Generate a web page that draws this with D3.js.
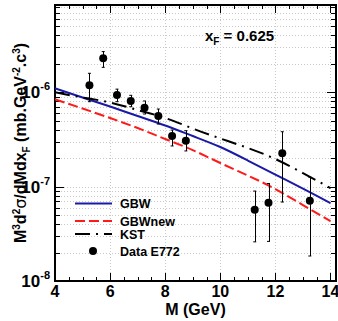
<!DOCTYPE html>
<html>
<head>
<meta charset="utf-8">
<script src="https://cdn.jsdelivr.net/npm/d3@7"></script>
<style>
  body { margin: 0; background: #fff; }
  svg { display: block; font-family: "Liberation Sans", Arial, sans-serif; font-weight: bold; }
</style>
</head>
<body>
<div id="chart"></div>
<script>
// theory curves, sampled at integer masses
var curveMass = [4, 5, 6, 7, 8, 9, 10, 11, 12, 13, 14];
var gbw    = [1.10e-6, 8.81e-7, 7.07e-7, 5.61e-7, 4.45e-7, 3.44e-7, 2.63e-7, 1.89e-7, 1.34e-7, 9.55e-8, 6.70e-8];
var gbwNew = [8.43e-7, 6.73e-7, 5.34e-7, 4.18e-7, 3.20e-7, 2.44e-7, 1.78e-7, 1.31e-7, 9.43e-8, 6.38e-8, 4.32e-8];
var kst    = [1.00e-6, 8.81e-7, 7.80e-7, 6.49e-7, 5.34e-7, 4.13e-7, 3.24e-7, 2.57e-7, 1.96e-7, 1.39e-7, 9.66e-8];

// E772 data points
var dataMass = [5.25, 5.75, 6.25, 6.75, 7.25, 7.75, 8.25, 8.75, 11.25, 11.75, 12.25, 13.25];
var dataVal  = [1.19e-6, 2.29e-6, 9.36e-7, 8.09e-7, 6.87e-7, 5.61e-7, 3.44e-7, 3.07e-7, 5.69e-8, 6.75e-8, 2.26e-7, 7.09e-8];
var dataHi   = [1.59e-6, 2.70e-6, 1.08e-6, 9.29e-7, 8.09e-7, 6.65e-7, 3.98e-7, 3.92e-7, 8.98e-8, 1.08e-7, 3.82e-7, 1.26e-7];
var dataLo   = [7.95e-7, 1.84e-6, 7.95e-7, 7.04e-7, 5.89e-7, 4.61e-7, 2.70e-7, 2.39e-7, 2.60e-8, 2.63e-8, 6.87e-8, 1.84e-8];

var xMajor = [4, 6, 8, 10, 12, 14];
var yMajor = [1e-8, 1e-7, 1e-6];
var yExp = ["-8", "-7", "-6"];

var legendItems = ["GBW", "GBWnew", "KST", "Data E772"];

var W = 338, H = 321;
var pLeft = 55, pRight = 336, pTop = 5, pBottom = 281;

var svg = d3.select("#chart").append("svg")
    .attr("width", W)
    .attr("height", H);

var x = d3.scaleLinear().domain([4, 14.2]).range([pLeft, pRight]);
var y = d3.scaleLog().domain([1e-8, 8.42e-6]).range([pBottom, pTop]);

// minor ticks
var xMinor = d3.range(4, 14.21, 0.5).filter(function(d) { return xMajor.indexOf(d) < 0; });
var yMinor = [];
[-8, -7, -6].forEach(function(e) {
    for (var k = 2; k <= 9; k++) {
        var v = k * Math.pow(10, e);
        if (v <= 8.42e-6) yMinor.push(v);
    }
});

// grid
var grid = svg.append("g").attr("stroke", "#c8c8c8").attr("stroke-width", 1).attr("stroke-dasharray", "1,2");
grid.selectAll(".gx")
    .data(xMajor.slice(1))
    .enter().append("line")
        .attr("x1", function(d) { return Math.round(x(d)) + 0.5; })
        .attr("x2", function(d) { return Math.round(x(d)) + 0.5; })
        .attr("y1", pTop).attr("y2", pBottom);
grid.selectAll(".gy")
    .data(yMajor.slice(1).concat(yMinor))
    .enter().append("line")
        .attr("x1", pLeft).attr("x2", pRight)
        .attr("y1", function(d) { return Math.round(y(d)) + 0.5; })
        .attr("y2", function(d) { return Math.round(y(d)) + 0.5; });

// ticks on all four sides (inside), ROOT style
var ticks = svg.append("g").attr("stroke", "#000").attr("stroke-width", 1);
function xTicks(vals, len) {
    vals.forEach(function(d) {
        var px = Math.round(x(d)) + 0.5;
        ticks.append("line").attr("x1", px).attr("x2", px).attr("y1", pBottom).attr("y2", pBottom - len);
        ticks.append("line").attr("x1", px).attr("x2", px).attr("y1", pTop).attr("y2", pTop + len);
    });
}
function yTicks(vals, len) {
    vals.forEach(function(d) {
        var py = Math.round(y(d)) + 0.5;
        ticks.append("line").attr("x1", pLeft).attr("x2", pLeft + len).attr("y1", py).attr("y2", py);
        ticks.append("line").attr("x1", pRight).attr("x2", pRight - len).attr("y1", py).attr("y2", py);
    });
}
xTicks(xMajor, 8);
xTicks(xMinor, 4);
yTicks(yMajor, 9);
yTicks(yMinor, 5);

// frame
svg.append("rect")
    .attr("x", pLeft).attr("y", pTop)
    .attr("width", pRight - pLeft).attr("height", pBottom - pTop)
    .attr("fill", "none").attr("stroke", "#000").attr("stroke-width", 2);

// x tick labels
svg.selectAll(".xl")
    .data(xMajor)
    .enter().append("text")
        .attr("x", function(d) { return x(d); })
        .attr("y", 297)
        .attr("text-anchor", "middle")
        .attr("font-size", 16)
        .text(function(d) { return d; });

// y tick labels 10^n
var yl = svg.selectAll(".yl")
    .data(yMajor)
    .enter().append("text")
        .attr("x", 50)
        .attr("y", function(d) { return y(d) + 6; })
        .attr("text-anchor", "end")
        .attr("font-size", 17);
yl.append("tspan").text("10");
yl.append("tspan")
    .attr("dy", -8)
    .attr("font-size", 11)
    .text(function(d, i) { return yExp[i]; });

// axis titles
svg.append("text")
    .attr("x", (pLeft + pRight) / 2)
    .attr("y", 315)
    .attr("text-anchor", "middle")
    .attr("font-size", 16)
    .text("M (GeV)");

var yt = svg.append("text")
    .attr("transform", "translate(26," + ((pTop + pBottom) / 2) + ") rotate(-90)")
    .attr("text-anchor", "middle")
    .attr("font-size", 16);
yt.append("tspan").text("M");
yt.append("tspan").attr("dy", -6).attr("font-size", 10).text("3");
yt.append("tspan").attr("dy", 6).text("d");
yt.append("tspan").attr("dy", -6).attr("font-size", 10).text("2");
yt.append("tspan").attr("dy", 6).attr("font-family", "DejaVu Sans").attr("font-weight", "normal").text("σ");
yt.append("tspan").text("/dMdx");
yt.append("tspan").attr("dy", 4).attr("font-size", 10).text("F");
yt.append("tspan").attr("dy", -4).text(" (mb.GeV");
yt.append("tspan").attr("dy", -6).attr("font-size", 10).text("-2");
yt.append("tspan").attr("dy", 6).text(".c");
yt.append("tspan").attr("dy", -6).attr("font-size", 10).text("3");
yt.append("tspan").attr("dy", 6).text(")");

// x_F annotation
var xf = svg.append("text")
    .attr("x", 205).attr("y", 41)
    .attr("font-size", 15);
xf.append("tspan").text("x");
xf.append("tspan").attr("dy", 4).attr("font-size", 10).text("F");
xf.append("tspan").attr("dy", -4).text(" = 0.625");

// theory curves
svg.append("clipPath").attr("id", "plotclip")
    .append("rect").attr("x", pLeft).attr("y", pTop).attr("width", pRight - pLeft).attr("height", pBottom - pTop);

var line = d3.line()
    .x(function(d) { return x(d[0]); })
    .y(function(d) { return y(d[1]); })
    .curve(d3.curveNatural);

var series = [
    { vals: gbw, color: "#1a1aa6", dash: null },
    { vals: gbwNew, color: "#ff1a1a", dash: "10,4" },
    { vals: kst, color: "#000", dash: "15,6,2,6" }
];

svg.append("g").attr("clip-path", "url(#plotclip)")
    .selectAll("path")
    .data(series)
    .enter().append("path")
        .attr("d", function(s) { return line(curveMass.map(function(m, i) { return [m, s.vals[i]]; })); })
        .attr("fill", "none")
        .attr("stroke", function(s) { return s.color; })
        .attr("stroke-width", 2)
        .attr("stroke-dasharray", function(s) { return s.dash; });

// data points with error bars
var pts = svg.append("g").selectAll("g")
    .data(dataMass)
    .enter().append("g");
pts.append("line")
    .attr("x1", function(d) { return Math.round(x(d)) + 0.5; })
    .attr("x2", function(d) { return Math.round(x(d)) + 0.5; })
    .attr("y1", function(d, i) { return y(dataHi[i]); })
    .attr("y2", function(d, i) { return y(dataLo[i]); })
    .attr("stroke", "#000").attr("stroke-width", 1);
pts.append("line")
    .attr("x1", function(d) { return x(d) - 1.5; })
    .attr("x2", function(d) { return x(d) + 1.5; })
    .attr("y1", function(d, i) { return y(dataHi[i]); })
    .attr("y2", function(d, i) { return y(dataHi[i]); })
    .attr("stroke", "#000");
pts.append("line")
    .attr("x1", function(d) { return x(d) - 1.5; })
    .attr("x2", function(d) { return x(d) + 1.5; })
    .attr("y1", function(d, i) { return y(dataLo[i]); })
    .attr("y2", function(d, i) { return y(dataLo[i]); })
    .attr("stroke", "#000");
pts.append("circle")
    .attr("cx", function(d) { return x(d); })
    .attr("cy", function(d, i) { return y(dataVal[i]); })
    .attr("r", 4)
    .attr("fill", "#000");

// legend
var legY = [203.5, 221, 234, 251];
var leg = svg.append("g");
series.forEach(function(s, i) {
    leg.append("line")
        .attr("x1", 75).attr("x2", 112)
        .attr("y1", legY[i]).attr("y2", legY[i])
        .attr("stroke", s.color).attr("stroke-width", 2)
        .attr("stroke-dasharray", s.dash);
});
leg.append("circle").attr("cx", 93).attr("cy", legY[3]).attr("r", 4).attr("fill", "#000");
leg.selectAll("text")
    .data(legendItems)
    .enter().append("text")
        .attr("x", 120)
        .attr("y", function(d, i) { return legY[i] + 4.5; })
        .attr("font-size", 12.5)
        .text(function(d) { return d; });
</script>
</body>
</html>
